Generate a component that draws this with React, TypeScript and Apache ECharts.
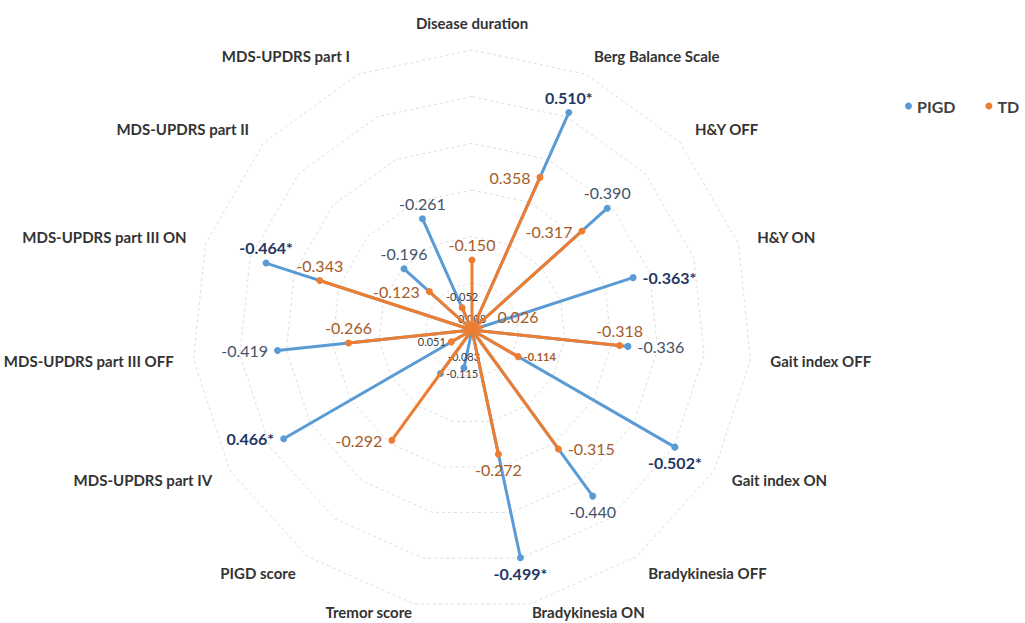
import React, { useEffect, useRef } from 'react';
import * as echarts from 'echarts';

// Categories clockwise from the top
const categories = [
  'Disease duration',
  'Berg Balance Scale',
  'H&Y OFF',
  'H&Y ON',
  'Gait index OFF',
  'Gait index ON',
  'Bradykinesia OFF',
  'Bradykinesia ON',
  'Tremor score',
  'PIGD score',
  'MDS-UPDRS part IV',
  'MDS-UPDRS part III OFF',
  'MDS-UPDRS part III ON',
  'MDS-UPDRS part II',
  'MDS-UPDRS part I',
];

const pigdValues: (number | null)[] = [
  0.008, 0.51, -0.39, -0.363, -0.336, -0.502, -0.44, -0.499, -0.083, -0.115, 0.466, -0.419, -0.464, -0.196, -0.261,
];
const pigdSignificant = [false, true, false, true, false, true, false, true, false, false, true, false, true, false, false];

const tdValues: (number | null)[] = [
  -0.15, 0.358, -0.317, 0.026, -0.318, -0.114, -0.315, -0.272, null, -0.292, 0.051, -0.266, -0.343, -0.123, -0.052,
];
const tdSignificant = [false, false, false, false, false, false, false, false, false, false, false, false, false, false, false];

// label styling / placement (style only)
const pigdLabelSide = ['top', 'top', 'top', 'right', 'right', 'bottom', 'bottom', 'bottom', 'top', 'right', 'left', 'left', 'top', 'top', 'top'];
const tdLabelSide = ['top', 'left', 'left', 'right', 'top', 'right', 'right', 'bottom', 'top', 'left', 'left', 'top', 'top', 'left', 'top'];
const pigdLabelSmall = [true, false, false, false, false, false, false, false, true, true, false, false, false, false, false];
const tdLabelSmall = [false, false, false, false, false, true, false, false, false, false, true, false, false, false, true];

const radiusMax = 0.6;
const ringCount = 6;

const FONT = "Lato, 'Open Sans', 'Liberation Sans', sans-serif";
const BLUE = '#5B9BD5';
const ORANGE = '#ED7D31';

function fmt(v: number, sig: boolean) {
  return v.toFixed(3) + (sig ? '*' : '');
}

function buildSpokes(values: (number | null)[], sig: boolean[], sides: string[], smalls: boolean[], isTD: boolean) {
  const data: any[] = [];
  values.forEach((v, i) => {
    if (v == null) return;
    const small = smalls[i];
    let color = isTD ? '#A65B2A' : sig[i] ? '#1F3864' : '#44546A';
    let weight: any = sig[i] ? 'bold' : 'normal';
    let size = 16;
    if (small) {
      size = 11;
      if (isTD && Math.abs(v) >= 0.1) {
        weight = 'bold';
      } else {
        color = '#404040';
      }
    }
    const side = sides[i];
    const distBase = side === 'left' || side === 'right' ? 6 : 4;
    const near = Math.abs(v) < 0.04;
    data.push({ value: [0, i], symbolSize: 0, label: { show: false } });
    data.push({
      value: [Math.abs(v), i],
      symbolSize: near ? 0 : 7,
      label: {
        show: true,
        position: side,
        distance: small ? 2 : distBase,
        offset: near && !small ? [8, -10] : [0, 0],
        formatter: fmt(v, sig[i]),
        color,
        fontWeight: weight,
        fontSize: size,
        fontFamily: FONT,
      },
    });
    data.push({ value: ['-', '-'], symbolSize: 0, label: { show: false } });
  });
  return data;
}

export default function App() {
  const ref = useRef<HTMLDivElement>(null);

  useEffect(() => {
    if (!ref.current) return;
    const chart = echarts.init(ref.current, null, { renderer: 'svg' });
    const center = [472, 330];
    const radius = 280;

    // radar indicators go counter-clockwise, so reverse to get clockwise order
    const radarOrder = [0, ...categories.map((_, i) => i).slice(1).reverse()];
    const indicator = radarOrder.map((i) => {
      const base: any = { name: categories[i], min: 0, max: radiusMax };
      if (i === 7 || i === 8) base.nameGap = 8;
      return base;
    });

    chart.setOption({
      animation: false,
      backgroundColor: '#ffffff',
      legend: {
        data: ['PIGD', 'TD'],
        left: 900,
        top: 93,
        icon: 'circle',
        itemWidth: 7,
        itemHeight: 7,
        itemGap: 30,
        textStyle: { fontFamily: FONT, fontWeight: 'bold', fontSize: 16, color: '#404040' },
      },
      radar: {
        center,
        radius,
        startAngle: 90,
        shape: 'polygon',
        splitNumber: ringCount,
        indicator,
        nameGap: 20,
        axisName: { color: '#333333', fontWeight: 'bold', fontSize: 15, fontFamily: FONT },
        axisLine: { show: false },
        axisTick: { show: false },
        axisLabel: { show: false },
        splitArea: { show: false },
        splitLine: { lineStyle: { color: '#dedede', width: 1, type: [3, 3] } },
      },
      polar: { center, radius },
      angleAxis: {
        type: 'value',
        min: 0,
        max: categories.length,
        startAngle: 90,
        clockwise: true,
        axisLine: { show: false },
        axisTick: { show: false },
        axisLabel: { show: false },
        splitLine: { show: false },
      },
      radiusAxis: {
        type: 'value',
        min: 0,
        max: radiusMax,
        axisLine: { show: false },
        axisTick: { show: false },
        axisLabel: { show: false },
        splitLine: { show: false },
      },
      series: [
        {
          name: 'PIGD',
          type: 'line',
          coordinateSystem: 'polar',
          clip: false,
          data: buildSpokes(pigdValues, pigdSignificant, pigdLabelSide, pigdLabelSmall, false),
          connectNulls: false,
          symbol: 'circle',
          showSymbol: true,
          itemStyle: { color: BLUE },
          lineStyle: { color: BLUE, width: 3 },
          z: 2,
        },
        {
          name: 'TD',
          type: 'line',
          coordinateSystem: 'polar',
          clip: false,
          data: buildSpokes(tdValues, tdSignificant, tdLabelSide, tdLabelSmall, true),
          connectNulls: false,
          symbol: 'circle',
          showSymbol: true,
          itemStyle: { color: ORANGE },
          lineStyle: { color: ORANGE, width: 3 },
          z: 3,
        },
      ],
    });
    return () => chart.dispose();
  }, []);

  return <div ref={ref} style={{ position: 'fixed', left: 0, top: 0, width: 1025, height: 623 }} />;
}
